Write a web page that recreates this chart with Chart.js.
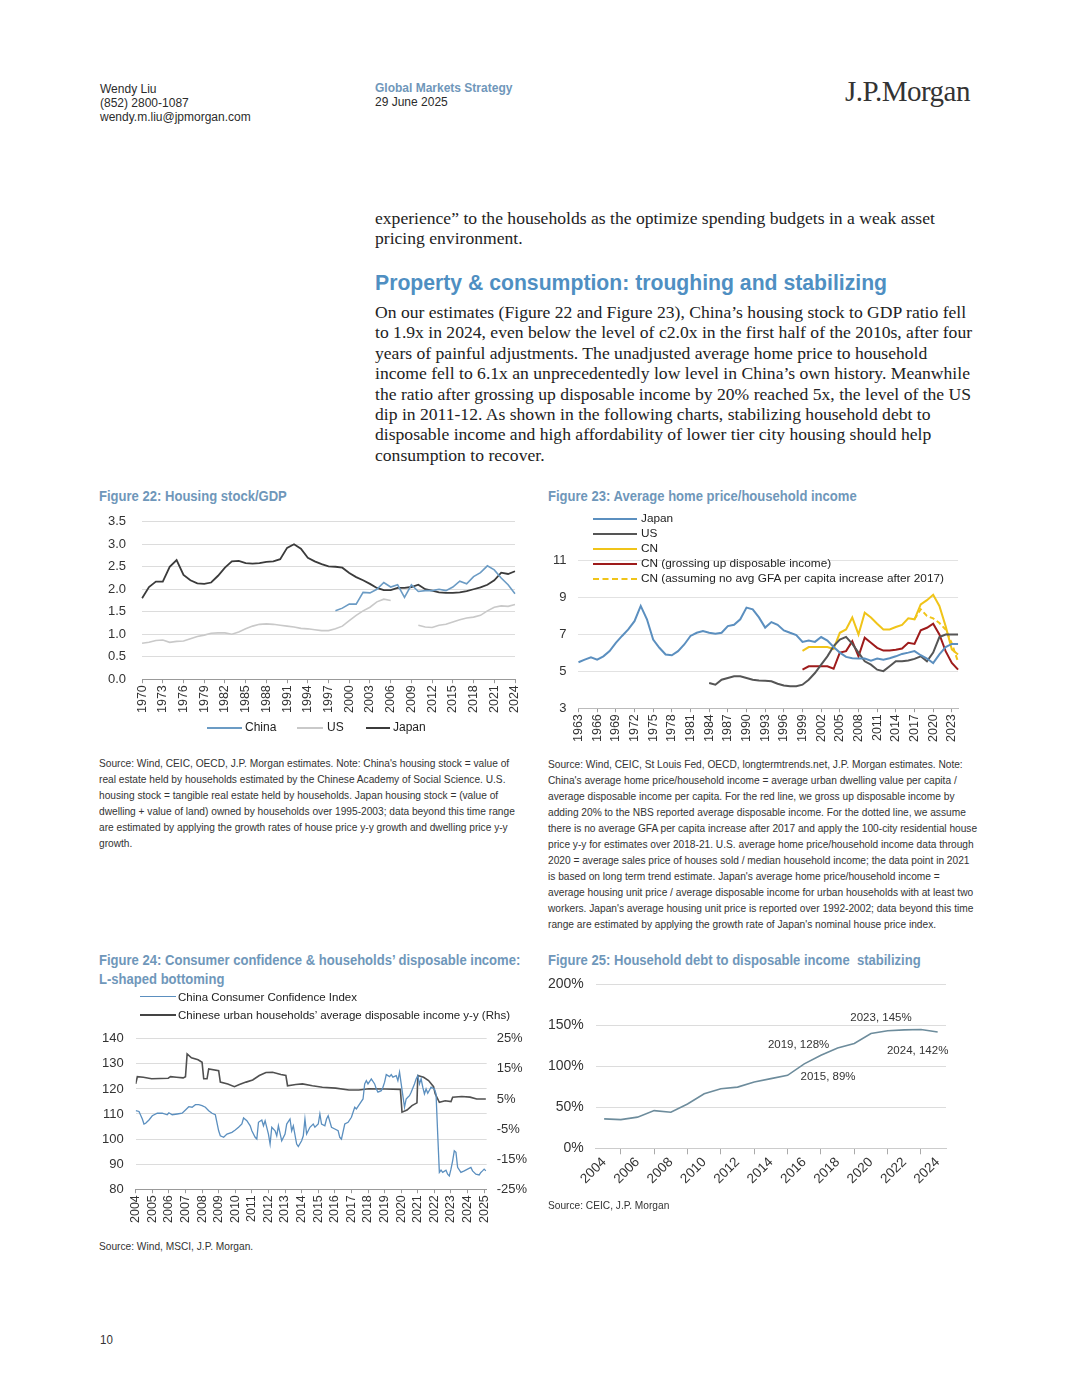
<!DOCTYPE html>
<html lang="en">
<head>
  <meta charset="UTF-8">
  <title>J.P. Morgan - Global Markets Strategy p.10</title>
  <script src="https://cdn.jsdelivr.net/npm/chart.js"></script>
  <style>
    :root {
      --blue-head: #4f8fc2;
      --blue-fig: #6f97ba;
      --text: #2b2b2b;
    }
    * { box-sizing: border-box; margin: 0; padding: 0; }
    body {
      width: 1080px;
      height: 1398px;
      background: #fff;
      color: var(--text);
      position: relative;
      overflow: hidden;
      font-family: "Liberation Sans", Arial, sans-serif;
    }
    .abs { position: absolute; white-space: nowrap; }
    .hdr { font-size: 12px; line-height: 14px; }
    .hdr b { color: var(--blue-fig); }
    .logo { font-family: "Liberation Serif", serif; font-size: 29px; color: #333; letter-spacing: -0.5px; }
    .body-text { font-family: "Liberation Serif", serif; font-size: 17.6px; line-height: 20.4px; color: #222; }
    .section { font-weight: bold; font-size: 21.2px; color: var(--blue-head); }
    .fig-title { font-size: 14.5px; line-height: 19px; font-weight: bold; color: var(--blue-fig);
                 transform: scaleX(0.9); transform-origin: left top; }
    .src { font-size: 10.6px; line-height: 16px; color: #333; transform: scaleX(0.96); transform-origin: left top; }
    canvas { position: absolute; }
    .lg { font-size: 11.8px; line-height: 15px; color: #222; }
    .lg div { position: relative; height: 15px; }
    .lg i { position: absolute; top: 7px; height: 0; border-top: 2px solid; }
    .lg span { position: absolute; }
  </style>
</head>
<body>
  <!-- header -->
  <div class="abs hdr" style="left:100px; top:82px;">Wendy Liu<br>(852) 2800-1087<br>wendy.m.liu@jpmorgan.com</div>
  <div class="abs hdr" style="left:375px; top:81px;"><b>Global Markets Strategy</b><br>29 June 2025</div>
  <div class="abs logo" style="left:845px; top:75px;">J.P.Morgan</div>

  <!-- text -->
  <div class="abs body-text" style="left:375px; top:208px;">experience” to the households as the optimize spending budgets in a weak asset<br>pricing environment.</div>
  <div class="abs section" style="left:375px; top:271px;">Property &amp; consumption: troughing and stabilizing</div>
  <div class="abs body-text" style="left:375px; top:302px;">
    On our estimates (Figure 22 and Figure 23), China’s housing stock to GDP ratio fell<br>
    to 1.9x in 2024, even below the level of c2.0x in the first half of the 2010s, after four<br>
    years of painful adjustments. The unadjusted average home price to household<br>
    income fell to 6.1x an unprecedentedly low level in China’s own history. Meanwhile<br>
    the ratio after grossing up disposable income by 20% reached 5x, the level of the US<br>
    dip in 2011-12. As shown in the following charts, stabilizing household debt to<br>
    disposable income and high affordability of lower tier city housing should help<br>
    consumption to recover.
  </div>

  <!-- figure titles -->
  <div class="abs fig-title" style="left:99px; top:487px;">Figure 22: Housing stock/GDP</div>
  <div class="abs fig-title" style="left:548px; top:487px;">Figure 23: Average home price/household income</div>
  <div class="abs fig-title" style="left:99px; top:951px;">Figure 24: Consumer confidence &amp; households’ disposable income:<br>L-shaped bottoming</div>
  <div class="abs fig-title" style="left:548px; top:951px;">Figure 25: Household debt to disposable income&nbsp; stabilizing</div>

  <!-- charts -->
  <canvas id="chart22" width="441" height="217" style="left:91px; top:498px; width:441px; height:217px;"></canvas>
  <canvas id="chart23" width="430" height="236" style="left:539px; top:508px; width:430px; height:236px;"></canvas>
  <canvas id="chart24" width="453" height="206" style="left:86px; top:1019px; width:453px; height:206px;"></canvas>
  <canvas id="chart25" width="441" height="223" style="left:534px; top:964px; width:441px; height:223px;"></canvas>

  <!-- legends drawn as html -->
  <div class="abs lg" style="left:0; top:720px; width:540px; font-size:12px;">
    <div>
      <i style="left:207px; width:35px; border-color:#6b9bc4;"></i><span style="left:245px;">China</span>
      <i style="left:297px; width:26px; border-color:#c9c9c9;"></i><span style="left:327px;">US</span>
      <i style="left:366px; width:24px; border-color:#3b3b3b;"></i><span style="left:393px;">Japan</span>
    </div>
  </div>
  <div class="abs lg" style="left:593px; top:511px; width:380px;">
    <div><i style="left:0; width:44px; border-color:#5b8fbf;"></i><span style="left:48px;">Japan</span></div>
    <div><i style="left:0; width:44px; border-color:#555;"></i><span style="left:48px;">US</span></div>
    <div><i style="left:0; width:44px; border-color:#f0c419;"></i><span style="left:48px;">CN</span></div>
    <div><i style="left:0; width:44px; border-color:#9e1b1b;"></i><span style="left:48px;">CN (grossing up disposable income)</span></div>
    <div><i style="left:0; width:44px; border-color:#f0c419; border-top-style:dashed;"></i><span style="left:48px;">CN (assuming no avg GFA per capita increase after 2017)</span></div>
  </div>
  <div class="abs lg" style="left:140px; top:988px; width:380px; line-height:18px; font-size:11.5px;">
    <div style="height:18px;"><i style="left:0; width:36px; top:8px; border-top-width:1.5px; border-color:#5b8fbf;"></i><span style="left:38px;">China Consumer Confidence Index</span></div>
    <div style="height:18px;"><i style="left:0; width:36px; top:8px; border-color:#444;"></i><span style="left:38px;">Chinese urban households’ average disposable income y-y (Rhs)</span></div>
  </div>

  <!-- sources -->
  <div class="abs src" style="left:99px; top:755px;">
    Source: Wind, CEIC, OECD, J.P. Morgan estimates. Note: China's housing stock = value of<br>
    real estate held by households estimated by the Chinese Academy of Social Science. U.S.<br>
    housing stock = tangible real estate held by households. Japan housing stock = (value of<br>
    dwelling + value of land) owned by households over 1995-2003; data beyond this time range<br>
    are estimated by applying the growth rates of house price y-y growth and dwelling price y-y<br>
    growth.
  </div>
  <div class="abs src" style="left:548px; top:756px;">
    Source: Wind, CEIC, St Louis Fed, OECD, longtermtrends.net, J.P. Morgan estimates. Note:<br>
    China's average home price/household income = average urban dwelling value per capita /<br>
    average disposable income per capita. For the red line, we gross up disposable income by<br>
    adding 20% to the NBS reported average disposable income. For the dotted line, we assume<br>
    there is no average GFA per capita increase after 2017 and apply the 100-city residential house<br>
    price y-y for estimates over 2018-21. U.S. average home price/household income data through<br>
    2020 = average sales price of houses sold / median household income; the data point in 2021<br>
    is based on long term trend estimate. Japan's average home price/household income =<br>
    average housing unit price / average disposable income for urban households with at least two<br>
    workers. Japan's average housing unit price is reported over 1992-2002; data beyond this time<br>
    range are estimated by applying the growth rate of Japan's nominal house price index.
  </div>
  <div class="abs src" style="left:99px; top:1238px;">Source: Wind, MSCI, J.P. Morgan.</div>
  <div class="abs src" style="left:548px; top:1197px;">Source: CEIC, J.P. Morgan</div>
  <div class="abs src" style="left:100px; top:1332px; font-size:12px;">10</div>

  <script>
    // ---------- Figure 22: housing stock / GDP (annual 1970-2024)
    const years22 = [];
    for (let y = 1970; y <= 2024; y++) years22.push(String(y));
    const japan22 = [1.80, 2.05, 2.17, 2.17, 2.50, 2.65, 2.32, 2.20, 2.13, 2.12,
                     2.15, 2.30, 2.48, 2.62, 2.63, 2.58, 2.57, 2.58, 2.61, 2.62,
                     2.67, 2.92, 3.00, 2.90, 2.70, 2.62, 2.56, 2.51, 2.50, 2.48,
                     2.36, 2.27, 2.20, 2.12, 2.03, 1.98, 1.98, 2.03, 2.03, 2.05,
                     2.10, 2.00, 1.97, 1.93, 1.92, 1.92, 1.93, 1.96, 2.00, 2.04,
                     2.10, 2.20, 2.37, 2.34, 2.40];
    const us22 = [0.80, 0.82, 0.86, 0.87, 0.82, 0.84, 0.85, 0.90, 0.95, 0.98,
                  1.02, 1.03, 1.03, 1.00, 1.05, 1.12, 1.18, 1.22, 1.23, 1.22,
                  1.20, 1.18, 1.16, 1.13, 1.12, 1.10, 1.08, 1.08, 1.12, 1.18,
                  1.30, 1.42, 1.52, 1.60, 1.72, 1.78, 1.75, null, null, null,
                  1.20, 1.16, 1.15, 1.20, 1.22, 1.27, 1.32, 1.36, 1.38, 1.42,
                  1.52, 1.60, 1.63, 1.62, 1.66];
    const china22 = [null, null, null, null, null, null, null, null, null, null,
                     null, null, null, null, null, null, null, null, null, null,
                     null, null, null, null, null, null, null, null, 1.52, 1.58,
                     1.67, 1.67, 1.93, 1.92, 2.00, 2.15, 2.05, 2.10, 1.82, 2.10,
                     1.95, 1.97, 1.97, 2.00, 1.97, 2.05, 2.18, 2.12, 2.28, 2.37,
                     2.52, 2.43, 2.25, 2.10, 1.90];

    // ---------- Figure 23: home price / household income (annual 1963-2024)
    const years23 = [];
    for (let y = 1963; y <= 2024; y++) years23.push(String(y));
    const japan23 = [5.48, 5.62, 5.75, 5.62, 5.80, 6.08, 6.53, 6.90, 7.25, 7.70,
                     8.52, 7.80, 6.70, 6.26, 5.90, 5.86, 6.08, 6.44, 6.90, 7.07,
                     7.16, 7.07, 7.02, 7.07, 7.43, 7.50, 7.80, 8.43, 8.34, 7.90,
                     7.35, 7.65, 7.50, 7.20, 7.07, 6.95, 6.58, 6.65, 6.58, 6.84,
                     6.65, 6.30, 6.00, 5.77, 5.70, 5.68, 5.68, 5.57, 5.68, 5.62,
                     5.70, 5.80, 5.93, 6.00, 6.08, 5.86, 5.68, 5.44, 5.90, 6.30,
                     6.47, 6.47];
    const us23 = [null, null, null, null, null, null, null, null, null, null,
                  null, null, null, null, null, null, null, null, null, null,
                  null, 4.36, 4.27, 4.54, 4.63, 4.72, 4.72, 4.63, 4.54, 4.50,
                  4.48, 4.45, 4.32, 4.23, 4.18, 4.18, 4.27, 4.54, 4.90, 5.35,
                  5.80, 6.35, 6.70, 6.85, 6.47, 6.00, 5.53, 5.35, 5.08, 5.00,
                  5.26, 5.53, 5.53, 5.57, 5.66, 5.80, 5.53, 6.00, 6.84, 6.98,
                  6.98, 6.98];
    const cn23 = [null, null, null, null, null, null, null, null, null, null,
                  null, null, null, null, null, null, null, null, null, null,
                  null, null, null, null, null, null, null, null, null, null,
                  null, null, null, null, null, null, 6.10, 6.30, 6.30, 6.30,
                  6.30, 6.20, 7.07, 7.25, 7.90, 6.98, 8.16, 7.90, 7.56, 7.25,
                  7.25, 7.38, 7.50, 7.85, 7.80, 8.60, 8.83, 9.12, 8.52, 7.43,
                  6.17, 5.90];
    const cnGross23 = [null, null, null, null, null, null, null, null, null, null,
                       null, null, null, null, null, null, null, null, null, null,
                       null, null, null, null, null, null, null, null, null, null,
                       null, null, null, null, null, null, 5.08, 5.26, 5.26, 5.26,
                       5.26, 5.13, 6.00, 6.08, 6.62, 5.80, 6.80, 6.53, 6.26, 6.11,
                       6.11, 6.15, 6.22, 6.53, 6.47, 7.20, 7.34, 7.56, 6.98, 6.08,
                       5.44, 5.08];
    const cnNoGfa23 = [null, null, null, null, null, null, null, null, null, null,
                       null, null, null, null, null, null, null, null, null, null,
                       null, null, null, null, null, null, null, null, null, null,
                       null, null, null, null, null, null, null, null, null, null,
                       null, null, null, null, null, null, null, null, null, null,
                       null, null, null, null, 7.80, 8.34, 7.98, 7.85, 7.60, 7.25,
                       6.50, 5.50];

    // ---------- Figure 24: consumer confidence (monthly) & income y-y (quarterly)
    const cciDates = [2004.0, 2004.2, 2004.4, 2004.5, 2004.6, 2004.8, 2005.0, 2005.3, 2005.6, 2005.9,
                      2006.0, 2006.2, 2006.5, 2006.8, 2007.0, 2007.2, 2007.4, 2007.6, 2007.8, 2008.0,
                      2008.2, 2008.4, 2008.6, 2008.8, 2009.0, 2009.1, 2009.3, 2009.5, 2009.8, 2010.0,
                      2010.2, 2010.4, 2010.5, 2010.7, 2010.9, 2011.0, 2011.2, 2011.3, 2011.4, 2011.6,
                      2011.7, 2011.8, 2012.0, 2012.1, 2012.2, 2012.4, 2012.5, 2012.6, 2012.8, 2013.0,
                      2013.1, 2013.3, 2013.4, 2013.5, 2013.7, 2013.8, 2014.0, 2014.1, 2014.2, 2014.3,
                      2014.5, 2014.7, 2014.8, 2015.0, 2015.1, 2015.2, 2015.4, 2015.5, 2015.6, 2015.8,
                      2016.0, 2016.2, 2016.3, 2016.4, 2016.6, 2016.8, 2017.0, 2017.2, 2017.3, 2017.5,
                      2017.7, 2017.8, 2017.9, 2018.0, 2018.2, 2018.4, 2018.5, 2018.6, 2018.8, 2018.9,
                      2019.0, 2019.1, 2019.3, 2019.4, 2019.5, 2019.7, 2019.8, 2019.9, 2020.0, 2020.1,
                      2020.2, 2020.3, 2020.4, 2020.5, 2020.6, 2020.8, 2020.9, 2021.0, 2021.1, 2021.2,
                      2021.3, 2021.4, 2021.5, 2021.6, 2021.8, 2022.0, 2022.1, 2022.2, 2022.3, 2022.4,
                      2022.5, 2022.7, 2022.8, 2022.9, 2023.0, 2023.1, 2023.2, 2023.3, 2023.4, 2023.6,
                      2023.8, 2024.0, 2024.2, 2024.3, 2024.5, 2024.7, 2024.8, 2024.9, 2025.0, 2025.1];
    const cciValues = [111.3, 111.0, 108.0, 106.0, 106.3, 107.6, 109.3, 110.3, 110.3, 109.7,
                       110.5, 109.7, 110.0, 110.3, 111.6, 112.9, 112.7, 113.7, 113.7, 113.3,
                       112.7, 111.3, 110.3, 109.7, 103.3, 101.3, 100.7, 102.0, 102.7, 103.6,
                       104.7, 106.0, 108.4, 107.3, 105.3, 103.3, 100.7, 100.0, 106.7, 107.6,
                       105.3, 107.3, 102.0, 98.0, 104.7, 103.3, 101.3, 105.3, 99.3, 102.0,
                       106.0, 108.0, 103.3, 105.3, 98.0, 97.0, 99.3, 101.3, 108.0, 102.0,
                       104.7, 106.0, 104.7, 106.0, 110.0, 106.0, 105.3, 108.0, 109.3, 104.7,
                       104.0, 103.3, 100.7, 100.0, 106.0, 106.7, 108.7, 112.7, 112.0, 114.0,
                       116.0, 122.0, 123.3, 122.0, 124.0, 122.0, 120.0, 118.7, 119.3, 120.7,
                       122.7, 125.7, 124.9, 125.7, 124.7, 125.3, 123.3, 126.7, 122.0, 117.3,
                       112.7, 116.0, 116.7, 117.3, 118.7, 122.0, 124.0, 125.3, 122.0, 124.0,
                       120.7, 118.0, 120.0, 118.3, 120.7, 120.0, 118.0, 102.0, 86.7, 87.6,
                       86.7, 87.6, 86.0, 85.3, 88.0, 91.3, 95.3, 94.7, 88.7, 86.7,
                       87.3, 88.0, 88.7, 87.3, 86.0, 85.7, 86.7, 87.3, 88.0, 87.3];
    const incomeDates = [2004.0, 2004.1, 2004.46, 2004.96, 2005.96, 2006.1, 2006.46, 2006.86, 2007.0, 2007.1,
                         2007.36, 2007.76, 2008.0, 2008.1, 2008.3, 2008.4, 2009.0, 2009.1, 2009.55, 2009.95,
                         2010.25, 2010.65, 2011.05, 2011.45, 2011.85, 2012.25, 2012.75, 2013.05, 2013.15, 2013.65,
                         2014.05, 2014.65, 2015.25, 2016.05, 2016.85, 2017.45, 2018.05, 2019.05, 2019.95, 2020.05,
                         2020.35, 2020.65, 2020.95, 2021.0, 2021.35, 2021.65, 2021.95, 2022.05, 2022.3, 2022.65,
                         2023.0, 2023.1, 2023.65, 2024.15, 2024.55, 2025.1];
    const incomeValues = [10.0, 12.4, 12.2, 11.7, 11.9, 12.4, 12.2, 12.0, 12.4, 20.0,
                          18.7, 18.0, 17.2, 11.7, 11.7, 15.0, 14.4, 10.6, 10.0, 9.1,
                          9.8, 10.6, 11.3, 12.8, 13.8, 13.9, 13.1, 12.8, 9.4, 9.8,
                          10.0, 9.4, 8.9, 8.6, 8.0, 8.0, 8.4, 8.3, 8.2, 0.6,
                          1.3, 2.8, 3.7, 12.8, 12.2, 11.1, 9.1, 6.7, 3.9, 4.4,
                          4.1, 5.6, 5.8, 5.6, 5.0, 5.0];
    const ticks24 = [];
    for (let y = 2004; y <= 2025; y++) ticks24.push(y);

    // ---------- Figure 25: household debt / disposable income
    const years25 = [];
    for (let y = 2004; y <= 2024; y++) years25.push(String(y));
    const debt25 = [35.9, 35.0, 38.0, 46.0, 44.0, 54.0, 66.5, 72.7, 74.7, 80.8,
                    85.0, 89.0, 103.0, 113.5, 122.4, 128.0, 140.0, 143.5, 144.5, 145.0,
                    142.0];
    const labelled25 = ['2015', '2019', '2023', '2024'];

    Chart.defaults.font.family = '"Liberation Sans", Arial, sans-serif';
    Chart.defaults.color = '#333';
    Chart.defaults.animation = false;
    Chart.defaults.responsive = false;
    Chart.defaults.plugins.tooltip.enabled = false;
    Chart.defaults.plugins.legend.display = false;
    Chart.defaults.elements.point.radius = 0;
    Chart.defaults.elements.line.tension = 0;

    const chart22 = new Chart(document.getElementById('chart22'), {
      type: 'line',
      data: {
        labels: years22,
        datasets: [
          { label: 'China', data: china22, borderColor: '#6b9bc4', borderWidth: 1.6 },
          { label: 'US', data: us22, borderColor: '#c9c9c9', borderWidth: 1.6 },
          { label: 'Japan', data: japan22, borderColor: '#3b3b3b', borderWidth: 1.8 }
        ]
      },
      options: {
        layout: { padding: { left: 1, right: 1, top: 6, bottom: 0 } },
        scales: {
          x: {
            grid: { drawOnChartArea: false, tickLength: 4, color: '#999' },
            border: { color: '#999' },
            ticks: {
              autoSkip: false, maxRotation: 90, minRotation: 90, padding: 2,
              font: { size: 12.5 },
              callback: (v, i) => i % 3 === 0 ? years22[i] : null
            }
          },
          y: {
            min: 0, max: 3.5,
            grid: { color: '#dcdcdc', drawTicks: false },
            border: { display: false },
            ticks: { stepSize: 0.5, padding: 16, font: { size: 13 }, callback: v => v.toFixed(1) }
          }
        }
      }
    });

    const chart23 = new Chart(document.getElementById('chart23'), {
      type: 'line',
      data: {
        labels: years23,
        datasets: [
          { label: 'Japan', data: japan23, borderColor: '#5b8fbf', borderWidth: 2 },
          { label: 'US', data: us23, borderColor: '#555555', borderWidth: 2 },
          { label: 'CN', data: cn23, borderColor: '#f0c419', borderWidth: 2 },
          { label: 'CN (grossing up disposable income)', data: cnGross23, borderColor: '#9e1b1b', borderWidth: 2 },
          { label: 'CN (assuming no avg GFA per capita increase after 2017)', data: cnNoGfa23, borderColor: '#f0c419', borderWidth: 2, borderDash: [5, 3] }
        ]
      },
      options: {
        layout: { padding: { left: 2, right: 10, top: 52, bottom: 0 } },
        scales: {
          x: {
            grid: { drawOnChartArea: false, tickLength: 4, color: '#999' },
            border: { color: '#bbb' },
            ticks: {
              autoSkip: false, maxRotation: 90, minRotation: 90, padding: 2,
              font: { size: 12.5 },
              callback: (v, i) => i % 3 === 0 ? years23[i] : null
            }
          },
          y: {
            min: 3, max: 11,
            grid: { color: '#e2e2e2', drawTicks: false },
            border: { display: false },
            ticks: { stepSize: 2, padding: 12, font: { size: 13 } }
          }
        }
      }
    });

    const chart24 = new Chart(document.getElementById('chart24'), {
      type: 'line',
      data: {
        datasets: [
          { label: 'China Consumer Confidence Index', data: cciDates.map((d, i) => ({ x: d, y: cciValues[i] })),
            borderColor: '#5b8fbf', borderWidth: 1.3, yAxisID: 'y' },
          { label: "Chinese urban households' average disposable income y-y (Rhs)", data: incomeDates.map((d, i) => ({ x: d, y: incomeValues[i] })),
            borderColor: '#505050', borderWidth: 1.6, yAxisID: 'y1' }
        ]
      },
      options: {
        layout: { padding: { left: 4, right: 2, top: 6, bottom: 0 } },
        scales: {
          x: {
            type: 'linear', min: 2004, max: 2025.15,
            afterBuildTicks: axis => { axis.ticks = ticks24.map(v => ({ value: v })); },
            grid: { drawOnChartArea: false, tickLength: 4, color: '#999' },
            border: { color: '#999' },
            ticks: { autoSkip: false, maxRotation: 90, minRotation: 90, padding: 2, font: { size: 12.5 }, callback: v => String(v) }
          },
          y: {
            position: 'left', min: 80, max: 140,
            grid: { color: '#dcdcdc', drawTicks: false },
            border: { display: false },
            ticks: { stepSize: 10, padding: 12, font: { size: 13 } }
          },
          y1: {
            position: 'right', min: -25, max: 25,
            grid: { drawOnChartArea: false, drawTicks: false },
            border: { display: false },
            ticks: { stepSize: 10, padding: 10, font: { size: 13 }, callback: v => v + '%' }
          }
        }
      }
    });

    // text labels next to chosen points of Figure 25
    const labelOffsets25 = { '2015': [13, 1, 'left'], '2019': [-25, 1, 'right'], '2023': [-40, -12, 'center'], '2024': [-20, 19, 'center'] };
    const pointLabels = {
      id: 'pointLabels',
      afterDatasetsDraw(chart) {
        const { ctx } = chart;
        const meta = chart.getDatasetMeta(0);
        ctx.save();
        ctx.font = '11.5px "Liberation Sans", Arial, sans-serif';
        ctx.fillStyle = '#333';
        ctx.textBaseline = 'middle';
        labelled25.forEach(year => {
          const i = years25.indexOf(year);
          const pt = meta.data[i];
          const [dx, dy, align] = labelOffsets25[year];
          ctx.textAlign = align;
          ctx.fillText(year + ', ' + Math.round(debt25[i]) + '%', pt.x + dx, pt.y + dy);
        });
        ctx.restore();
      }
    };

    const chart25 = new Chart(document.getElementById('chart25'), {
      type: 'line',
      data: {
        labels: years25,
        datasets: [
          { label: 'Household debt / disposable income', data: debt25, borderColor: '#6d8c9c', borderWidth: 1.6 }
        ]
      },
      options: {
        layout: { padding: { left: 2, right: 29, top: 4, bottom: 0 } },
        scales: {
          x: {
            offset: true,
            grid: { offset: true, drawOnChartArea: false, tickLength: 6, color: '#aaa' },
            border: { color: '#ccc' },
            ticks: {
              autoSkip: false, maxRotation: 45, minRotation: 45, padding: 0,
              font: { size: 13.5 },
              callback: (v, i) => i % 2 === 0 ? years25[i] : null
            }
          },
          y: {
            min: 0, max: 200,
            grid: { color: '#dcdcdc', drawTicks: false },
            border: { display: false },
            ticks: { stepSize: 50, padding: 12, font: { size: 14 }, callback: v => v + '%' }
          }
        }
      },
      plugins: [pointLabels]
    });
  </script>
</body>
</html>
